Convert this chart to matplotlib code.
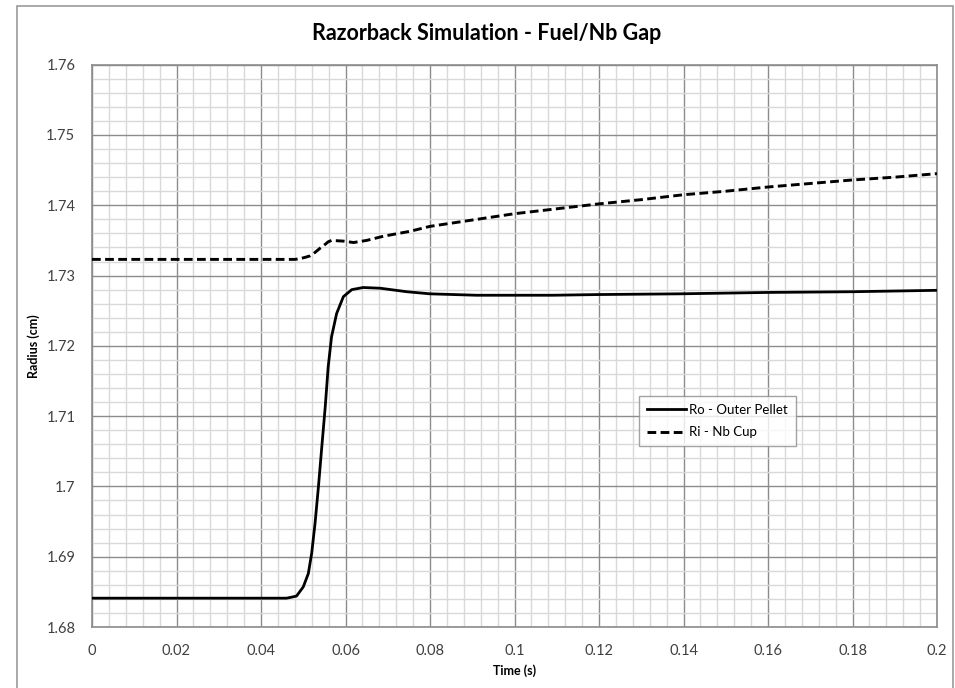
import numpy as np
import matplotlib
matplotlib.use("Agg")
import matplotlib.pyplot as plt
from matplotlib.patches import Rectangle
from matplotlib.ticker import MultipleLocator

# values
time_ro = [0, 0.046, 0.0469, 0.0484, 0.05, 0.0512, 0.052, 0.0528, 0.0536, 0.0544,
           0.0552, 0.0559, 0.0567, 0.0579, 0.0595, 0.0615, 0.0642, 0.0682, 0.0745,
           0.08, 0.091, 0.109, 0.12, 0.139, 0.16, 0.18, 0.2]
radius_ro = [1.6841, 1.6841, 1.6842, 1.6844, 1.6857, 1.6876, 1.6905, 1.6948, 1.7000, 1.7057,
             1.7113, 1.7170, 1.7213, 1.7246, 1.7270, 1.7280, 1.7283, 1.7282, 1.7277,
             1.7274, 1.7272, 1.7272, 1.7273, 1.7274, 1.7276, 1.7277, 1.7279]

time_ri = [0, 0.048, 0.0492, 0.0505, 0.0516, 0.0524, 0.054, 0.0547, 0.0559, 0.0567,
           0.0595, 0.0619, 0.065, 0.069, 0.0753, 0.08, 0.09, 0.10, 0.11, 0.12,
           0.13, 0.14, 0.15, 0.16, 0.17, 0.18, 0.19, 0.2]
radius_ri = [1.7323, 1.7323, 1.7324, 1.7326, 1.7328, 1.7331, 1.7339, 1.7342, 1.7348, 1.7350,
             1.7349, 1.7347, 1.7350, 1.7356, 1.7363, 1.7370, 1.7379, 1.7388, 1.7395, 1.7402,
             1.7408, 1.7415, 1.7420, 1.7426, 1.7431, 1.7436, 1.7440, 1.7445]

xticks = [0, 0.02, 0.04, 0.06, 0.08, 0.1, 0.12, 0.14, 0.16, 0.18, 0.2]
xlabels = ["0", "0.02", "0.04", "0.06", "0.08", "0.1", "0.12", "0.14", "0.16", "0.18", "0.2"]
yticks = [1.68, 1.69, 1.7, 1.71, 1.72, 1.73, 1.74, 1.75, 1.76]
ylabels = ["1.68", "1.69", "1.7", "1.71", "1.72", "1.73", "1.74", "1.75", "1.76"]

plt.rcParams['font.family'] = ['Lato', 'DejaVu Sans']

W, H = 955, 688
fig = plt.figure(figsize=(W / 100, H / 100), dpi=100)
ax = fig.add_axes([92 / W, 1 - 627 / H, 845 / W, 562.3 / H])

# chart area border (cropped at right/bottom)
fig.patches.append(Rectangle((17 / W, -0.05), (953 - 17) / W, 1 - 6 / H + 0.05,
                             transform=fig.transFigure, fill=False,
                             edgecolor="#9a9a9a", linewidth=1.2))

ax.plot(time_ro, radius_ro, color="black", lw=2.0, label="Ro - Outer Pellet",
        solid_joinstyle="round", zorder=3)
ax.plot(time_ri, radius_ri, color="black", lw=2.1, dashes=(3.0, 1.5),
        label="Ri - Nb Cup", zorder=3)

ax.set_xlim(0, 0.2)
ax.set_ylim(1.68, 1.76)
ax.set_xticks(xticks)
ax.set_xticklabels(xlabels)
ax.set_yticks(yticks)
ax.set_yticklabels(ylabels)
ax.xaxis.set_minor_locator(MultipleLocator(0.004))
ax.yaxis.set_minor_locator(MultipleLocator(0.002))
ax.grid(which="major", color="#8c8c8c", lw=1.0)
ax.grid(which="minor", color="#d9d9d9", lw=1.0)
ax.set_axisbelow(True)
ax.tick_params(which="both", length=0, labelsize=10.5, colors="#404040")
ax.tick_params(axis="y", pad=12)
ax.tick_params(axis="x", pad=12)
for s in ax.spines.values():
    s.set_color("#8c8c8c")
    s.set_linewidth(1.2)

ax.set_xlabel("Time (s)", fontsize=9, fontweight="bold")
ax.set_ylabel("Radius (cm)", fontsize=9, fontweight="bold")
ax.xaxis.set_label_coords(0.5, -0.066)
ax.yaxis.set_label_coords(-0.062, 0.5)

fig.suptitle("Razorback Simulation - Fuel/Nb Gap", x=487 / W, y=1 - 33 / H,
             va="center", fontsize=15.5, fontweight="bold")

leg = ax.legend(loc="center", bbox_to_anchor=(0.74, 0.366), fontsize=9.5,
                frameon=True, fancybox=False, handlelength=3.0, handletextpad=0.2,
                borderpad=0.6, labelspacing=0.8)
leg.get_frame().set_edgecolor("#8c8c8c")
leg.get_frame().set_linewidth(1.0)

fig.savefig("out.png", dpi=100)
